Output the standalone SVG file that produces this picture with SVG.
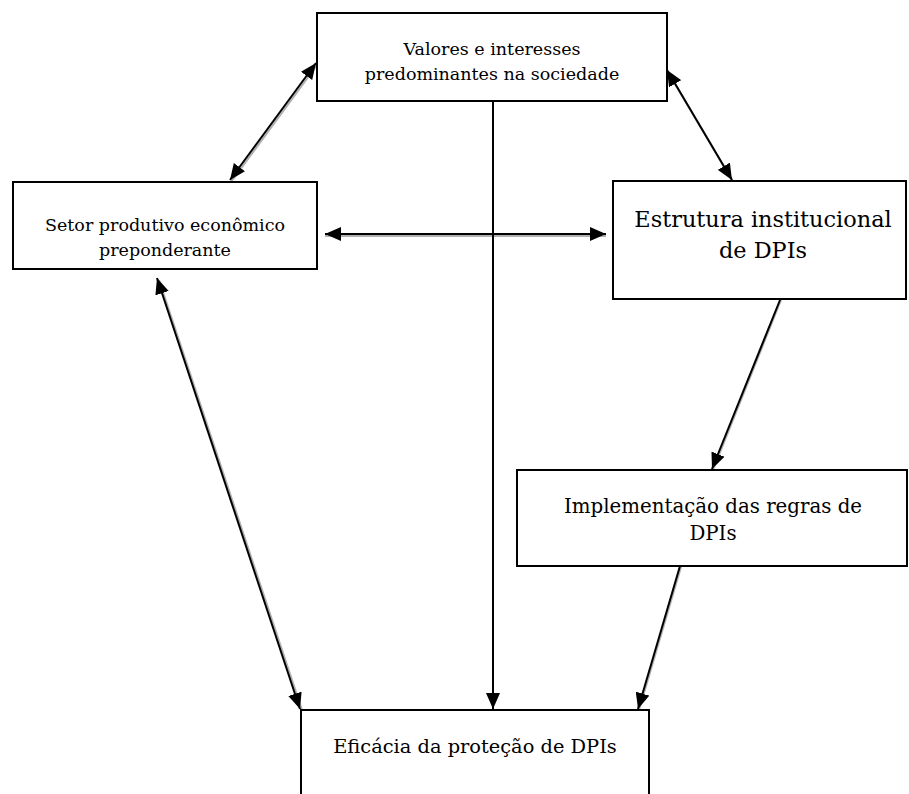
<svg xmlns="http://www.w3.org/2000/svg" width="909" height="794" viewBox="0 0 909 794">
<defs>
<style>
.box{fill:#fff;stroke:#000;stroke-width:2}
.t{font-family:"DejaVu Serif","Liberation Serif",serif;fill:#000;text-anchor:middle}
.ln{stroke:#000;stroke-width:2;fill:none}
.sh{stroke:#b0b0b0;stroke-width:2;fill:none}
</style>
<marker id="ah" viewBox="0 0 16 14" refX="16" refY="7" markerWidth="16" markerHeight="14" markerUnits="userSpaceOnUse" orient="auto-start-reverse">
<path d="M0,0 L16,7 L0,14 z" fill="#000"/>
</marker>
</defs>
<rect width="909" height="794" fill="#fff"/>
<g id="connectors">
<line class="sh" x1="317" y1="65" x2="231" y2="182"/>
<line class="ln" x1="316" y1="63" x2="230" y2="180" marker-start="url(#ah)" marker-end="url(#ah)"/>
<line class="sh" x1="668" y1="72" x2="733" y2="182"/>
<line class="ln" x1="667" y1="70" x2="732" y2="180" marker-start="url(#ah)" marker-end="url(#ah)"/>
<line class="sh" x1="325" y1="236" x2="606" y2="236"/>
<line class="ln" x1="325" y1="234" x2="606" y2="234" marker-start="url(#ah)" marker-end="url(#ah)"/>
<line class="ln" x1="493" y1="101" x2="493" y2="709" marker-end="url(#ah)"/>
<line class="sh" x1="159" y1="280" x2="302" y2="710"/>
<line class="ln" x1="157" y1="278" x2="300" y2="709" marker-start="url(#ah)" marker-end="url(#ah)"/>
<line class="sh" x1="781" y1="300" x2="713" y2="470"/>
<line class="ln" x1="780" y1="300" x2="712" y2="469" marker-end="url(#ah)"/>
<line class="sh" x1="681" y1="567" x2="639" y2="710"/>
<line class="ln" x1="680" y1="566" x2="638" y2="709" marker-end="url(#ah)"/>
</g>
<g id="valores">
<rect class="box" x="317" y="13" width="350" height="88"/>
<text class="t" x="492" y="55" font-size="17.5">Valores e interesses</text>
<text class="t" x="492" y="80" font-size="17.5">predominantes na sociedade</text>
</g>
<g id="setor">
<rect class="box" x="13" y="182" width="304" height="87"/>
<text class="t" x="165" y="231" font-size="17.5">Setor produtivo econômico</text>
<text class="t" x="165" y="256" font-size="17.5">preponderante</text>
</g>
<g id="estrutura">
<rect class="box" x="613" y="181" width="293" height="118"/>
<text class="t" x="763" y="227" font-size="22.4">Estrutura institucional</text>
<text class="t" x="763" y="258" font-size="22.4">de DPIs</text>
</g>
<g id="implementacao">
<rect class="box" x="517" y="470" width="390" height="96"/>
<text class="t" x="713" y="513" font-size="19.8">Implementação das regras de</text>
<text class="t" x="713" y="540" font-size="19.8">DPIs</text>
</g>
<g id="eficacia">
<rect class="box" x="301" y="710" width="348" height="100"/>
<text class="t" x="475" y="753" font-size="19.4">Eficácia da proteção de DPIs</text>
</g>
</svg>
